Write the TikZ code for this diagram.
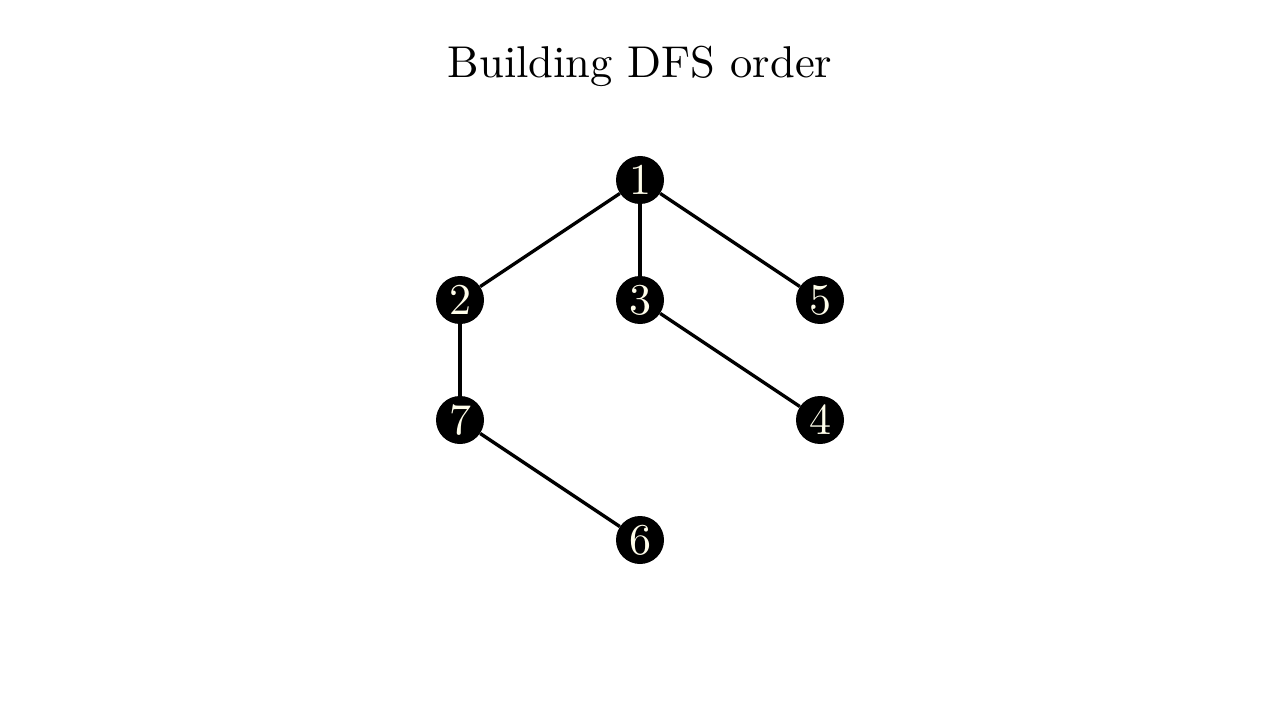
\documentclass[tikz,border=0pt]{standalone}
\begin{document}
\begin{tikzpicture}[x=0.75pt,y=-0.75pt,
  vert/.style={circle,fill=black,inner sep=0pt,minimum size=36pt},
  lbl/.style={text=white!92!yellow,scale=3.3,font=\normalsize},
  edge/.style={line width=2.5pt,black}]
\useasboundingbox[fill=white] (0,0) rectangle (1280,720);
\node[anchor=base,scale=3.34,font=\normalsize] (title) at (640,78) {Building DFS order};
\node[vert] (n1) at (640,180) {};
\node[vert] (n2) at (460,300) {};
\node[vert] (n3) at (640,300) {};
\node[vert] (n5) at (820,300) {};
\node[vert] (n7) at (460,420) {};
\node[vert] (n4) at (820,420) {};
\node[vert] (n6) at (640,540) {};
\draw[edge] (n1) -- (n2);
\draw[edge] (n1) -- (n3);
\draw[edge] (n1) -- (n5);
\draw[edge] (n3) -- (n4);
\draw[edge] (n2) -- (n7);
\draw[edge] (n7) -- (n6);
\node[lbl] (t1) at (n1) {1};
\node[lbl] (t2) at (n2) {2};
\node[lbl] (t3) at (n3) {3};
\node[lbl] (t5) at (n5) {5};
\node[lbl] (t7) at (n7) {7};
\node[lbl] (t4) at (n4) {4};
\node[lbl] (t6) at (n6) {6};
\end{tikzpicture}
\end{document}
